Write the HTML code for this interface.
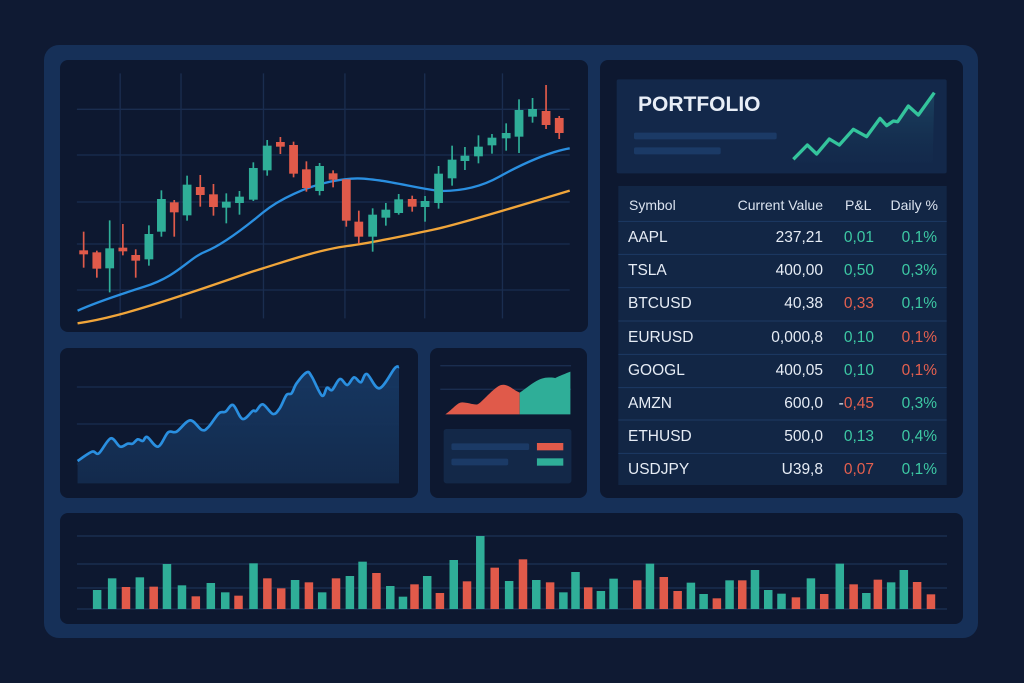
<!DOCTYPE html>
<html><head><meta charset="utf-8">
<style>
*{margin:0;padding:0;box-sizing:border-box}
body{width:1024px;height:683px;background:#0f1a33;position:relative;overflow:hidden;font-family:"Liberation Sans",sans-serif}
.frame{position:absolute;left:44px;top:45px;width:934px;height:593px;background:#163058;border-radius:15px}
.p{position:absolute;background:#0d1830;border-radius:8px}
svg{position:absolute}
.t{position:absolute;color:#e6ecf5;font-size:15.5px;white-space:nowrap}
.h{font-size:14px;color:#dbe3ef}
.g{color:#3dc9a4}.r{color:#e5604f}
</style></head><body>
<div class="frame"></div>
<div class="p" style="left:60px;top:60px;width:528px;height:272px"></div>
<div class="p" style="left:600px;top:60px;width:363px;height:438px"></div>
<div class="p" style="left:60px;top:348px;width:358px;height:150px"></div>
<div class="p" style="left:430px;top:348px;width:157px;height:150px"></div>
<div class="p" style="left:60px;top:513px;width:903px;height:111px"></div>

<svg style="left:60px;top:60px" width="530" height="275" viewBox="0 0 1568 825" preserveAspectRatio="none" id="cs">
<g stroke="#1a2d4f" stroke-width="4">
<line x1="50" y1="148" x2="1508" y2="148"/><line x1="50" y1="285" x2="1508" y2="285"/><line x1="50" y1="426" x2="1508" y2="426"/><line x1="50" y1="552" x2="1508" y2="552"/><line x1="50" y1="690" x2="1508" y2="690"/>
<line x1="178" y1="40" x2="178" y2="775"/><line x1="358" y1="40" x2="358" y2="775"/><line x1="602" y1="40" x2="602" y2="775"/><line x1="843" y1="40" x2="843" y2="775"/><line x1="1079" y1="40" x2="1079" y2="775"/><line x1="1309" y1="40" x2="1309" y2="775"/>
</g>
<path fill="none" stroke="#f0a53a" stroke-width="7" d="M52,790 C120,780 200,760 350,710 S550,640 600,625 S760,570 850,558 S1050,520 1100,510 S1250,470 1300,455 S1450,410 1508,392"/>
<path fill="none" stroke="#2a8fe0" stroke-width="7" d="M52,752 C100,730 150,712 250,680 S380,595 430,575 S550,500 600,458 S730,380 800,365 S900,355 950,362 S1100,393 1130,393 S1230,390 1300,350 S1450,275 1508,265"/>
</svg>

<svg style="left:60px;top:345px" width="530" height="155" viewBox="0 0 1568 465" preserveAspectRatio="none">
<defs><linearGradient id="lg" x1="0" y1="0" x2="0" y2="1"><stop offset="0" stop-color="#173a66" stop-opacity=".9"/><stop offset="1" stop-color="#132a4c"/></linearGradient></defs>
<g stroke="#1a2d4f" stroke-width="4"><line x1="50" y1="126" x2="1003" y2="126"/><line x1="50" y1="237" x2="1003" y2="237"/><line x1="50" y1="357" x2="1003" y2="357"/>
<line x1="1125" y1="62" x2="1512" y2="62"/><line x1="1125" y1="133" x2="1512" y2="133"/></g>
<path id="ar" fill="url(#lg)" d=""/>
<path id="ln" fill="none" stroke="#2a8fe0" stroke-width="8" stroke-linejoin="round" d=""/>
<path fill="#e05a4a" d="M1140,208 C1165,190 1175,172 1190,172 S1225,180 1235,178 S1285,125 1305,120 S1340,135 1360,143 L1360,208Z"/>
<path fill="#2fae98" d="M1360,143 C1380,130 1410,100 1440,98 S1465,102 1465,100 S1490,88 1510,80 L1510,208 L1360,208Z"/>
<rect x="1135" y="252" width="378" height="163" rx="8" fill="#132848"/>
<rect x="1158" y="295" width="230" height="20" rx="5" fill="#1b3a66"/>
<rect x="1158" y="341" width="168" height="20" rx="5" fill="#1b3a66"/>
<rect x="1411" y="294" width="78" height="22" fill="#e05a4a"/>
<rect x="1411" y="340" width="78" height="22" fill="#2fae98"/>
</svg>

<svg style="left:600px;top:60px" width="365" height="440" viewBox="0 0 1095 1320">
<defs><linearGradient id="sg" x1="0" y1="0" x2="0" y2="1"><stop offset="0" stop-color="#1d4a66" stop-opacity=".8"/><stop offset="1" stop-color="#142c4e" stop-opacity=".3"/></linearGradient></defs>
<rect x="50" y="58" width="990" height="282" rx="6" fill="#13284a"/>
<rect x="102" y="218" width="428" height="20" rx="5" fill="#1b3a66"/>
<rect x="102" y="262" width="260" height="21" rx="5" fill="#1b3a66"/>
<path fill="url(#sg)" d="M580,298 L622,255 L650,282 L688,237 L718,255 L760,208 L800,230 L840,175 L860,197 L880,183 L893,185 L925,138 L955,165 L1003,98 L998,310 L580,310Z"/>
<path fill="none" stroke="#34c49c" stroke-width="10" stroke-linejoin="round" d="M580,298 L622,255 L650,282 L688,237 L718,255 L760,208 L800,230 L840,175 L860,197 L880,183 L893,185 L925,138 L955,165 L1003,98"/>
<rect x="55" y="378" width="985" height="897" fill="#122645"/>
<g stroke="#1d3a64" stroke-width="3"><line x1="55" y1="484" x2="1040" y2="484"/><line x1="55" y1="583" x2="1040" y2="583"/><line x1="55" y1="683" x2="1040" y2="683"/><line x1="55" y1="783" x2="1040" y2="783"/><line x1="55" y1="883" x2="1040" y2="883"/><line x1="55" y1="983" x2="1040" y2="983"/><line x1="55" y1="1080" x2="1040" y2="1080"/><line x1="55" y1="1180" x2="1040" y2="1180"/></g>
</svg>
<div class="t" style="left:638px;top:93px;font-size:21px;font-weight:bold;color:#e8eef7">PORTFOLIO</div>

<div id="tbl"></div>

<svg style="left:60px;top:510px" width="905" height="120" viewBox="0 0 905 120" id="bars">
<g stroke="#1a2d4f" stroke-width="1.5"><line x1="17" y1="26" x2="887" y2="26"/><line x1="17" y1="54" x2="887" y2="54"/><line x1="17" y1="78" x2="887" y2="78"/><line x1="17" y1="99" x2="887" y2="99"/></g>
</svg>

<script>
var NS="http://www.w3.org/2000/svg";
function el(p,n,a){var e=document.createElementNS(NS,n);for(var k in a)e.setAttribute(k,a[k]);p.appendChild(e);return e;}
var G="#2fae98",R="#e05a4a";
var c=[[70,571,583,515,623,0],[109,577,626,572,653,0],[147,565,625,481,697,1],[186,563,574,492,586,0],[224,585,602,568,653,0],[263,522,598,496,617,1],[300,417,515,391,530,1],[338,427,457,420,530,0],[376,374,466,347,482,1],[415,381,405,345,440,0],[454,403,441,372,467,0],[492,425,443,400,490,1],[531,410,429,393,464,1],[572,324,419,307,423,1],[613,257,331,240,347,1],[652,246,260,231,282,0],[691,255,341,245,352,0],[729,328,384,304,395,0],[768,318,393,309,406,1],[808,340,359,331,382,0],[847,358,482,358,500,0],[884,485,530,452,551,0],[925,464,530,445,575,1],[964,449,473,429,497,1],[1002,418,459,402,464,1],[1042,417,440,407,455,0],[1080,423,441,408,485,1],[1120,341,429,318,446,1],[1160,299,355,257,377,1],[1198,287,303,261,330,1],[1238,260,289,226,310,1],[1278,233,256,222,281,1],[1320,219,235,190,272,1],[1358,150,230,118,279,1],[1398,147,170,114,188,1],[1438,153,195,75,207,0],[1477,174,219,168,237,0]];
var cs=document.getElementById("cs");
c.forEach(function(d){var col=d[5]?G:R;el(cs,"line",{x1:d[0],x2:d[0],y1:d[3],y2:d[4],stroke:col,"stroke-width":5});el(cs,"rect",{x:d[0]-13,y:d[1],width:26,height:Math.max(8,d[2]-d[1]),fill:col});});
var lp=[[52,348],[95,320],[115,325],[150,280],[178,305],[200,296],[215,296],[230,283],[245,288],[258,276],[290,305],[320,262],[345,260],[385,226],[420,255],[440,245],[470,205],[490,200],[512,180],[540,222],[570,198],[580,198],[600,178],[630,207],[650,190],[670,150],[685,145],[700,115],[730,82],[745,95],[775,152],[790,128],[805,135],[828,102],[850,120],[870,97],[890,112],[908,87],[945,130],[990,70],[1003,66]];
var d="M"+lp[0].join(",");
for(var i=0;i<lp.length-1;i++){var p0=lp[Math.max(0,i-1)],p1=lp[i],p2=lp[i+1],p3=lp[Math.min(lp.length-1,i+2)];
d+=" C"+(p1[0]+(p2[0]-p0[0])/6)+","+(p1[1]+(p2[1]-p0[1])/6)+" "+(p2[0]-(p3[0]-p1[0])/6)+","+(p2[1]-(p3[1]-p1[1])/6)+" "+p2[0]+","+p2[1];}
document.getElementById("ln").setAttribute("d",d);
document.getElementById("ar").setAttribute("d",d+" L1003,415 L52,415Z");
var b=[[57,1,240],[83,1,205],[107,0,231],[131,1,202],[155,0,230],[178,1,162],[204,1,226],[228,0,259],[254,1,219],[279,1,247],[302,0,257],[328,1,160],[352,0,205],[376,0,235],[400,1,210],[424,0,217],[447,1,247],[471,0,205],[495,1,198],[517,1,155],[541,0,189],[565,1,228],[587,1,260],[607,0,223],[629,1,198],[651,0,249],[675,1,150],[698,0,214],[721,1,78],[746,0,173],[771,1,213],[795,0,148],[818,1,210],[842,0,217],[865,1,247],[886,1,186],[908,0,232],[930,1,243],[952,1,206],[993,0,211],[1015,1,161],[1039,0,201],[1063,0,243],[1086,1,218],[1108,1,252],[1131,0,265],[1153,1,211],[1175,0,211],[1197,1,180],[1220,1,240],[1243,1,251],[1268,0,262],[1294,1,205],[1317,0,252],[1344,1,161],[1368,0,223],[1390,1,249],[1410,0,209],[1433,1,217],[1455,1,180],[1478,0,216],[1502,0,253]];
var bs=document.getElementById("bars");
b.forEach(function(q){var x=q[0]/1.733,y=q[2]/3;el(bs,"rect",{x:x,y:y,width:8.5,height:99-y,fill:q[1]?G:R});});
var rows=[["AAPL","237,21","0,01","g","0,1%","g"],["TSLA","400,00","0,50","g","0,3%","g"],["BTCUSD","40,38","0,33","r","0,1%","g"],["EURUSD","0,000,8","0,10","g","0,1%","r"],["GOOGL","400,05","0,10","g","0,1%","r"],["AMZN","600,0","-0,45","r","0,3%","g"],["ETHUSD","500,0","0,13","g","0,4%","g"],["USDJPY","U39,8","0,07","r","0,1%","g"]];
var h='<div class="t h" style="left:629px;top:197px">Symbol</div><div class="t h" style="right:201px;top:197px">Current Value</div><div class="t h" style="left:845px;top:197px">P&amp;L</div><div class="t h" style="right:86px;top:197px">Daily %</div>';
rows.forEach(function(r,i){var y=229+i*33.2;
h+='<div class="t" style="left:628px;top:'+y+'px">'+r[0]+'</div><div class="t" style="right:201px;top:'+y+'px">'+r[1]+'</div><div class="t '+r[3]+'" style="right:150px;top:'+y+'px">'+(r[2][0]=="-"?'<span style="color:#e6ecf5">-</span>'+r[2].slice(1):r[2])+'</div><div class="t '+r[5]+'" style="right:87px;top:'+y+'px">'+r[4]+'</div>';});
document.getElementById("tbl").innerHTML=h;
</script>
</body></html>
